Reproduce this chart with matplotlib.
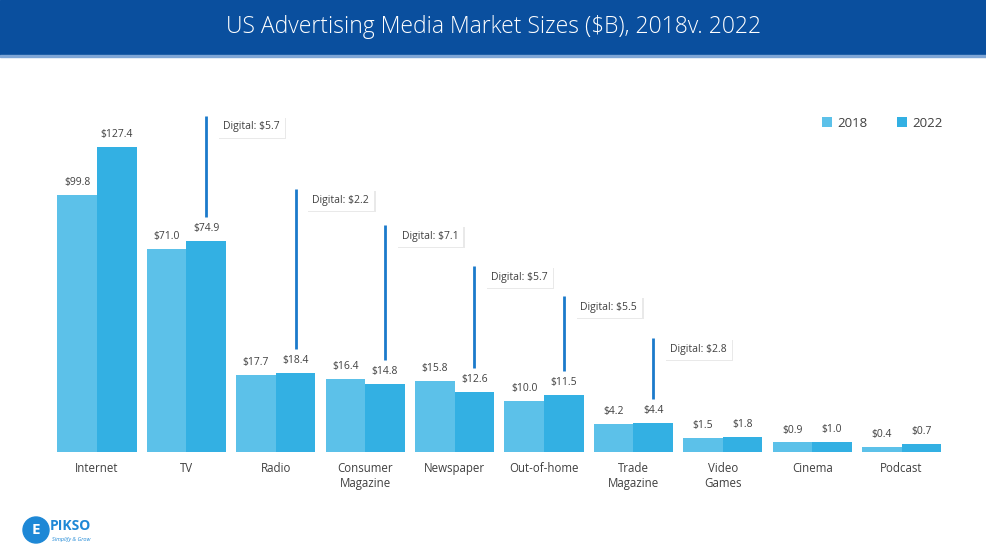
import numpy as np
import matplotlib
matplotlib.use('Agg')
import matplotlib.pyplot as plt
import matplotlib.patheffects as pe
from matplotlib.patches import Rectangle, Ellipse

plt.rcParams['font.family'] = ['Open Sans', 'DejaVu Sans']

# data
categories = ['Internet', 'TV', 'Radio', 'Consumer\nMagazine', 'Newspaper',
              'Out-of-home', 'Trade\nMagazine', 'Video\nGames', 'Cinema', 'Podcast']
values_2018 = [99.8, 71.0, 17.7, 16.4, 15.8, 10.0, 4.2, 1.5, 0.9, 0.4]
values_2022 = [127.4, 74.9, 18.4, 14.8, 12.6, 11.5, 4.4, 1.8, 1.0, 0.7]
digital_idx = [1, 2, 3, 4, 5, 6]
digital_vals = [5.7, 2.2, 7.1, 5.7, 5.5, 2.8]

# layout of the callouts (axes fraction of line top)
callout_top = [0.955, 0.747, 0.645, 0.528, 0.443, 0.324]

c18 = '#5CC1E9'
c22 = '#33B0E3'
line_c = '#1B7ACB'
txt_c = '#404040'

fig = plt.figure(figsize=(9.87, 5.56), dpi=100)

# header band
fig.patches.append(Rectangle((0, 1 - 55 / 556), 1, 55 / 556, transform=fig.transFigure,
                             color='#0A4F9E', zorder=0))
fig.patches.append(Rectangle((0, 1 - 57 / 556), 1, 2 / 556, transform=fig.transFigure,
                             color='#7FA6D6', zorder=0))
fig.text(0.5, 1 - 27 / 556, 'US Advertising Media Market Sizes ($B), 2018v. 2022',
         ha='center', va='center', color='white', fontsize=16.5, fontweight='light')

ax = fig.add_axes([52.3 / 987, 104 / 556, 894 / 987, 352 / 556])
p = 0.7
ax.set_yscale('function', functions=(lambda v: np.power(np.clip(v, 0, None), p),
                                     lambda v: np.power(np.clip(v, 0, None), 1 / p)))
x = np.arange(len(categories))
w = 0.442
ax.bar(x - w / 2, values_2018, w, color=c18, label='2018')
ax.bar(x + w / 2, values_2022, w, color=c22, label='2022')
ax.set_xlim(-0.5, len(categories) - 0.5)
ax.set_ylim(0, 156)
for s in ax.spines.values():
    s.set_visible(False)
ax.set_yticks([])
ax.set_xticks(x)
ax.set_xticklabels(categories, fontsize=8.3, color=txt_c, linespacing=1.2, va='top')
ax.tick_params(axis='x', length=0, pad=7)

for xi, v in zip(x, values_2018):
    ax.annotate(f'${v:.1f}', (xi - w / 2, v), xytext=(0, 5), textcoords='offset points',
                ha='center', va='bottom', fontsize=7.5, color=txt_c)
for xi, v in zip(x, values_2022):
    ax.annotate(f'${v:.1f}', (xi + w / 2, v), xytext=(0, 5), textcoords='offset points',
                ha='center', va='bottom', fontsize=7.5, color=txt_c)

# digital callouts
trans = ax.get_xaxis_transform()
for i, dv, top in zip(digital_idx, digital_vals, callout_top):
    xc = i + w / 2
    bar_top = ax.transData.transform((xc, values_2022[i]))[1]
    bottom = ax.transAxes.inverted().transform((0, bar_top + 24))[1]
    ax.plot([xc, xc], [bottom, top], transform=trans, color=line_c, lw=2,
            solid_capstyle='butt', clip_on=False)
    ax.annotate(f'Digital: ${dv:.1f}', (xc, top), xycoords=trans,
                xytext=(12, -8), textcoords='offset points', ha='left', va='center',
                fontsize=7.5, color=txt_c,
                bbox=dict(boxstyle='square,pad=0.5', fc='white', ec='none',
                          path_effects=[pe.withSimplePatchShadow(offset=(1, -1), alpha=0.12)]))

leg = ax.legend(loc='upper right', bbox_to_anchor=(955 / 987, 1 - 105 / 556),
                bbox_transform=fig.transFigure, ncol=2, frameon=False, fontsize=9.5,
                handlelength=0.8, handleheight=0.8, handletextpad=0.4, columnspacing=2.2)
for t in leg.get_texts():
    t.set_color(txt_c)

# logo
fig.patches.append(Ellipse((36 / 987, 1 - 530 / 556), 26 / 987, 26 / 556,
                           transform=fig.transFigure, color='#1E88D6', zorder=2))
fig.text(36 / 987, 1 - 530 / 556, 'E', ha='center', va='center', color='white',
         fontsize=11, fontweight='bold')
fig.text(50 / 987, 1 - 526 / 556, 'PIKSO', ha='left', va='center', color='#1E88D6',
         fontsize=10, fontweight='bold')
fig.text(52 / 987, 1 - 540 / 556, 'Simplify & Grow', ha='left', va='center',
         color='#1E88D6', fontsize=4, style='italic')

fig.savefig('out.png', dpi=100, facecolor='white')
